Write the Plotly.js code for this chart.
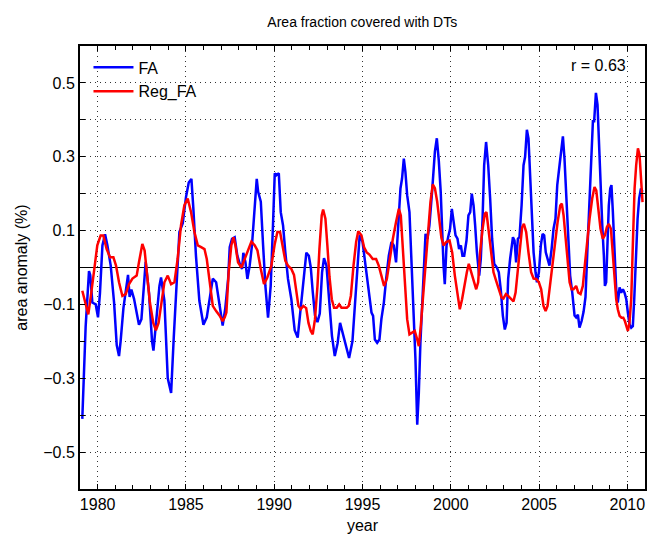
<!DOCTYPE html>
<html>
<head>
<meta charset="utf-8">
<script src="https://cdn.plot.ly/plotly-3.0.1.min.js"></script>
<style>
html,body{margin:0;padding:0;background:#fff;}
#chart{width:651px;height:536px;}
</style>
</head>
<body>
<div id="chart"></div>
<script>
// ---- data ----
const faYears = [1979.13,1979.32,1979.51,1979.58,1979.70,1979.89,1980.02,1980.13,1980.27,1980.42,1980.55,1980.74,1980.93,1981.08,1981.21,1981.30,1981.46,1981.59,1981.72,1981.81,1981.91,1982.06,1982.21,1982.34,1982.48,1982.63,1982.72,1982.91,1983.08,1983.16,1983.34,1983.50,1983.59,1983.78,1983.97,1984.16,1984.31,1984.48,1984.63,1984.82,1985.00,1985.16,1985.31,1985.42,1985.57,1985.76,1985.99,1986.18,1986.33,1986.52,1986.71,1986.90,1987.08,1987.23,1987.39,1987.48,1987.61,1987.76,1987.91,1988.05,1988.18,1988.25,1988.37,1988.48,1988.61,1988.74,1988.90,1989.01,1989.09,1989.24,1989.37,1989.50,1989.65,1989.80,1989.93,1990.03,1990.12,1990.26,1990.37,1990.50,1990.63,1990.78,1990.97,1991.16,1991.33,1991.50,1991.68,1991.82,1991.96,1992.07,1992.18,1992.31,1992.45,1992.58,1992.71,1992.82,1992.96,1993.10,1993.27,1993.43,1993.59,1993.73,1993.88,1994.05,1994.24,1994.43,1994.57,1994.70,1994.84,1995.00,1995.15,1995.30,1995.42,1995.51,1995.60,1995.70,1995.83,1995.96,1996.07,1996.21,1996.34,1996.49,1996.64,1996.77,1996.90,1997.02,1997.15,1997.24,1997.34,1997.43,1997.53,1997.66,1997.77,1997.89,1998.00,1998.10,1998.19,1998.28,1998.42,1998.57,1998.68,1998.79,1998.94,1999.10,1999.21,1999.32,1999.43,1999.51,1999.59,1999.66,1999.76,1999.85,1999.96,2000.06,2000.15,2000.27,2000.38,2000.47,2000.57,2000.66,2000.76,2000.89,2001.00,2001.10,2001.19,2001.29,2001.38,2001.48,2001.61,2001.70,2001.80,2001.89,2002.00,2002.12,2002.23,2002.34,2002.46,2002.61,2002.72,2002.83,2002.95,2003.06,2003.16,2003.25,2003.36,2003.45,2003.52,2003.61,2003.70,2003.80,2003.89,2004.01,2004.12,2004.21,2004.31,2004.40,2004.50,2004.59,2004.69,2004.80,2004.88,2004.99,2005.10,2005.20,2005.29,2005.38,2005.50,2005.59,2005.71,2005.82,2005.93,2006.03,2006.16,2006.25,2006.35,2006.44,2006.54,2006.65,2006.76,2006.88,2007.01,2007.10,2007.20,2007.29,2007.41,2007.52,2007.63,2007.74,2007.86,2007.97,2008.05,2008.12,2008.22,2008.31,2008.39,2008.48,2008.58,2008.67,2008.73,2008.80,2008.88,2008.95,2009.03,2009.10,2009.18,2009.27,2009.37,2009.46,2009.56,2009.65,2009.75,2009.84,2009.94,2010.03,2010.12,2010.22,2010.31,2010.39,2010.48,2010.58,2010.67,2010.77,2010.86];
const faValues = [-0.41,-0.16,-0.01,-0.02,-0.095,-0.10,-0.135,-0.07,0.06,0.09,0.06,0.005,-0.095,-0.21,-0.24,-0.20,-0.11,-0.06,-0.02,-0.08,-0.06,-0.085,-0.12,-0.155,-0.14,-0.04,0.015,-0.07,-0.20,-0.225,-0.12,-0.05,-0.027,-0.09,-0.30,-0.34,-0.19,-0.04,0.096,0.12,0.19,0.23,0.24,0.16,0.03,-0.09,-0.155,-0.135,-0.085,-0.03,-0.04,-0.10,-0.157,-0.11,-0.031,0.055,0.078,0.082,0.032,0.01,-0.004,0.04,0.014,-0.031,0.005,0.06,0.178,0.24,0.205,0.178,0.06,-0.05,-0.136,-0.05,0.114,0.255,0.25,0.255,0.15,0.114,0.041,-0.031,-0.086,-0.17,-0.19,-0.115,-0.04,0.04,0.032,0.0,-0.065,-0.13,-0.148,-0.125,-0.013,0.025,0.005,-0.09,-0.185,-0.24,-0.205,-0.15,-0.18,-0.208,-0.245,-0.20,-0.10,0.01,0.087,0.07,0.01,-0.05,-0.09,-0.122,-0.131,-0.195,-0.204,-0.195,-0.14,-0.095,-0.031,0.032,0.069,0.06,0.014,0.114,0.214,0.241,0.295,0.259,0.196,0.15,0.023,-0.159,-0.25,-0.426,-0.34,-0.204,-0.068,0.091,0.078,0.114,0.205,0.314,0.35,0.29,0.205,0.096,0.005,-0.045,0.06,0.082,0.105,0.159,0.132,0.087,0.078,0.05,0.06,0.032,0.032,0.073,0.141,0.15,0.2,0.168,0.114,0.041,-0.022,0.023,0.132,0.277,0.34,0.277,0.187,0.078,0.01,0.0,-0.013,-0.059,-0.131,-0.168,-0.15,-0.031,0.023,0.065,0.082,0.073,0.014,0.078,0.082,0.168,0.277,0.30,0.373,0.35,0.25,0.141,0.041,-0.013,-0.04,-0.013,0.06,0.091,0.087,0.041,0.023,0.005,0.05,0.105,0.132,0.223,0.277,0.323,0.355,0.295,0.187,0.06,-0.022,-0.068,-0.13,-0.135,-0.128,-0.163,-0.145,-0.12,-0.08,0.05,0.2,0.32,0.396,0.396,0.473,0.441,0.332,0.214,0.114,0.032,-0.05,-0.04,0.06,0.168,0.214,0.223,0.15,0.032,-0.059,-0.095,-0.054,-0.068,-0.059,-0.068,-0.086,-0.122,-0.154,-0.163,-0.159,-0.086,0.041,0.132,0.187,0.214,0.205];

const regYears = [1979.13,1979.32,1979.47,1979.64,1979.79,1979.98,1980.17,1980.32,1980.51,1980.70,1980.89,1981.04,1981.21,1981.40,1981.59,1981.78,1981.97,1982.21,1982.34,1982.53,1982.66,1982.81,1982.96,1983.15,1983.30,1983.45,1983.59,1983.78,1983.97,1984.16,1984.35,1984.53,1984.72,1984.91,1985.10,1985.29,1985.48,1985.67,1985.86,1986.05,1986.18,1986.33,1986.52,1986.71,1986.90,1987.08,1987.20,1987.29,1987.42,1987.57,1987.69,1987.80,1987.95,1988.14,1988.33,1988.52,1988.71,1988.90,1989.05,1989.24,1989.42,1989.61,1989.84,1990.03,1990.18,1990.33,1990.48,1990.63,1990.78,1990.97,1991.12,1991.24,1991.37,1991.50,1991.65,1991.81,1991.94,1992.07,1992.18,1992.31,1992.45,1992.56,1992.69,1992.77,1992.90,1993.01,1993.13,1993.26,1993.39,1993.54,1993.68,1993.81,1993.96,1994.11,1994.22,1994.34,1994.49,1994.64,1994.76,1994.94,1995.09,1995.24,1995.39,1995.58,1995.77,1995.92,1996.07,1996.22,1996.38,1996.53,1996.72,1996.90,1997.06,1997.17,1997.28,1997.40,1997.53,1997.66,1997.81,1997.96,1998.10,1998.19,1998.30,1998.42,1998.57,1998.72,1998.85,1998.98,1999.10,1999.23,1999.36,1999.47,1999.59,1999.74,1999.93,2000.08,2000.23,2000.38,2000.51,2000.64,2000.79,2000.91,2001.02,2001.13,2001.29,2001.44,2001.55,2001.66,2001.80,2001.93,2002.02,2002.12,2002.27,2002.42,2002.57,2002.72,2002.87,2002.98,2003.12,2003.25,2003.40,2003.55,2003.67,2003.80,2003.93,2004.04,2004.14,2004.27,2004.40,2004.55,2004.69,2004.84,2004.99,2005.12,2005.25,2005.37,2005.48,2005.59,2005.74,2005.89,2006.05,2006.20,2006.29,2006.39,2006.50,2006.61,2006.73,2006.84,2006.95,2007.10,2007.22,2007.35,2007.48,2007.59,2007.73,2007.86,2008.01,2008.14,2008.24,2008.35,2008.48,2008.61,2008.73,2008.84,2008.95,2009.07,2009.18,2009.27,2009.37,2009.46,2009.56,2009.67,2009.77,2009.86,2009.94,2010.03,2010.12,2010.22,2010.31,2010.41,2010.50,2010.60,2010.69,2010.78,2010.86];
const regValues = [-0.063,-0.10,-0.127,-0.068,-0.004,0.06,0.087,0.087,0.05,0.028,0.028,0.005,-0.04,-0.077,-0.072,-0.045,-0.03,-0.022,0.014,0.064,0.046,-0.022,-0.095,-0.15,-0.17,-0.15,-0.104,-0.04,-0.022,-0.045,-0.04,0.023,0.114,0.168,0.187,0.15,0.096,0.06,0.055,0.05,0.023,-0.04,-0.104,-0.118,-0.13,-0.145,-0.135,-0.122,-0.013,0.06,0.082,0.06,0.014,0.0,0.023,0.05,0.07,0.06,0.046,-0.004,-0.045,-0.027,0.005,0.064,0.096,0.096,0.06,0.018,0.005,-0.004,-0.02,-0.06,-0.104,-0.113,-0.104,-0.11,-0.15,-0.172,-0.181,-0.14,-0.05,0.05,0.141,0.157,0.132,0.06,-0.025,-0.086,-0.109,-0.109,-0.1,-0.109,-0.109,-0.109,-0.104,-0.077,0.005,0.069,0.098,0.087,0.055,0.041,0.035,0.023,0.023,0.005,-0.022,-0.05,-0.031,0.023,0.078,0.123,0.159,0.141,0.06,-0.05,-0.14,-0.181,-0.177,-0.172,-0.195,-0.213,-0.159,-0.086,0.023,0.114,0.178,0.225,0.215,0.178,0.12,0.08,0.06,0.069,0.073,0.041,-0.022,-0.077,-0.113,-0.086,-0.04,-0.013,0.01,-0.009,-0.04,-0.059,-0.04,0.041,0.105,0.146,0.15,0.105,0.041,-0.013,-0.036,-0.059,-0.081,-0.084,-0.072,-0.077,-0.086,-0.092,-0.068,-0.004,0.069,0.109,0.118,0.096,0.041,-0.013,-0.03,-0.031,-0.04,-0.059,-0.104,-0.118,-0.104,-0.059,0.005,0.069,0.123,0.168,0.173,0.141,0.078,0.014,-0.04,-0.059,-0.059,-0.05,-0.068,-0.072,-0.05,0.005,0.078,0.132,0.187,0.218,0.209,0.159,0.105,0.078,0.087,0.109,0.118,0.105,0.041,-0.031,-0.086,-0.113,-0.131,-0.136,-0.136,-0.145,-0.159,-0.172,-0.15,-0.086,0.06,0.214,0.277,0.323,0.305,0.241,0.177];

const yTickVals = [-0.6,-0.5,-0.4,-0.3,-0.2,-0.1,0,0.1,0.2,0.3,0.4,0.5,0.6];
const yTickText = ['','\u22120.5','','\u22120.3','','\u22120.1','','0.1','','0.3','','0.5',''];
const xTickVals = [1980,1985,1990,1995,2000,2005,2010];
const xTickText = ['1980','1985','1990','1995','2000','2005','2010'];
const seriesNames = ['FA','Reg_FA'];
const chartTitle = 'Area fraction covered with DTs';
const corrText = 'r = 0.63';

const FONT = 'Liberation Sans, Arial, Helvetica, sans-serif';

const traces = [
  {x: faYears, y: faValues, name: seriesNames[0], type: 'scatter', mode: 'lines',
   line: {color: '#0000ff', width: 2.5}},
  {x: regYears, y: regValues, name: seriesNames[1], type: 'scatter', mode: 'lines',
   line: {color: '#ff0000', width: 2.5}}
];

const layout = {
  width: 651, height: 536,
  margin: {l: 80, r: 6, t: 46, b: 47},
  paper_bgcolor: '#ffffff', plot_bgcolor: '#ffffff',
  font: {family: FONT, size: 16, color: '#000'},
  title: {text: chartTitle, font: {family: FONT, size: 14, color: '#000'}, x: 0.5565, xanchor: 'center', y: 0.958, yanchor: 'middle'},
  showlegend: true,
  legend: {x: 0.015, y: 0.99, xanchor: 'left', yanchor: 'top', bgcolor: 'rgba(0,0,0,0)', borderwidth: 0,
           font: {family: FONT, size: 16, color: '#000'}, tracegroupgap: 0, itemwidth: 40},
  xaxis: {
    range: [1979, 2011], tickmode: 'array', tickvals: xTickVals, ticktext: xTickText,
    ticks: 'inside', ticklen: 5, tickwidth: 1, tickcolor: '#000',
    showline: true, linecolor: '#000', linewidth: 2, mirror: 'ticks',
    showgrid: true, gridcolor: '#333', gridwidth: 1, griddash: '1px,4px',
    zeroline: false,
    minor: {dtick: 1, tick0: 1979, ticks: 'inside', ticklen: 4, tickcolor: '#000', showgrid: false},
    title: {text: 'year', font: {family: FONT, size: 16, color: '#000'}, standoff: 8},
    tickfont: {family: FONT, size: 16, color: '#000'}
  },
  yaxis: {
    range: [-0.6, 0.6], tickmode: 'array', tickvals: yTickVals, ticktext: yTickText,
    ticks: 'inside', ticklen: 5, tickwidth: 1, tickcolor: '#000',
    showline: true, linecolor: '#000', linewidth: 2, mirror: 'ticks',
    showgrid: true, gridcolor: '#333', gridwidth: 1, griddash: '1px,4px',
    zeroline: true, zerolinecolor: '#000', zerolinewidth: 1,
    title: {text: 'area anomaly (%)', font: {family: FONT, size: 16, color: '#000'}, standoff: 12},
    tickfont: {family: FONT, size: 16, color: '#000'}
  },
  annotations: [
    {text: corrText, xref: 'paper', yref: 'paper', x: 0.97, y: 0.955, xanchor: 'right', yanchor: 'middle',
     showarrow: false, font: {family: FONT, size: 16, color: '#000'}}
  ]
};

Plotly.newPlot('chart', traces, layout, {displayModeBar: false, staticPlot: true});
</script>
</body>
</html>
